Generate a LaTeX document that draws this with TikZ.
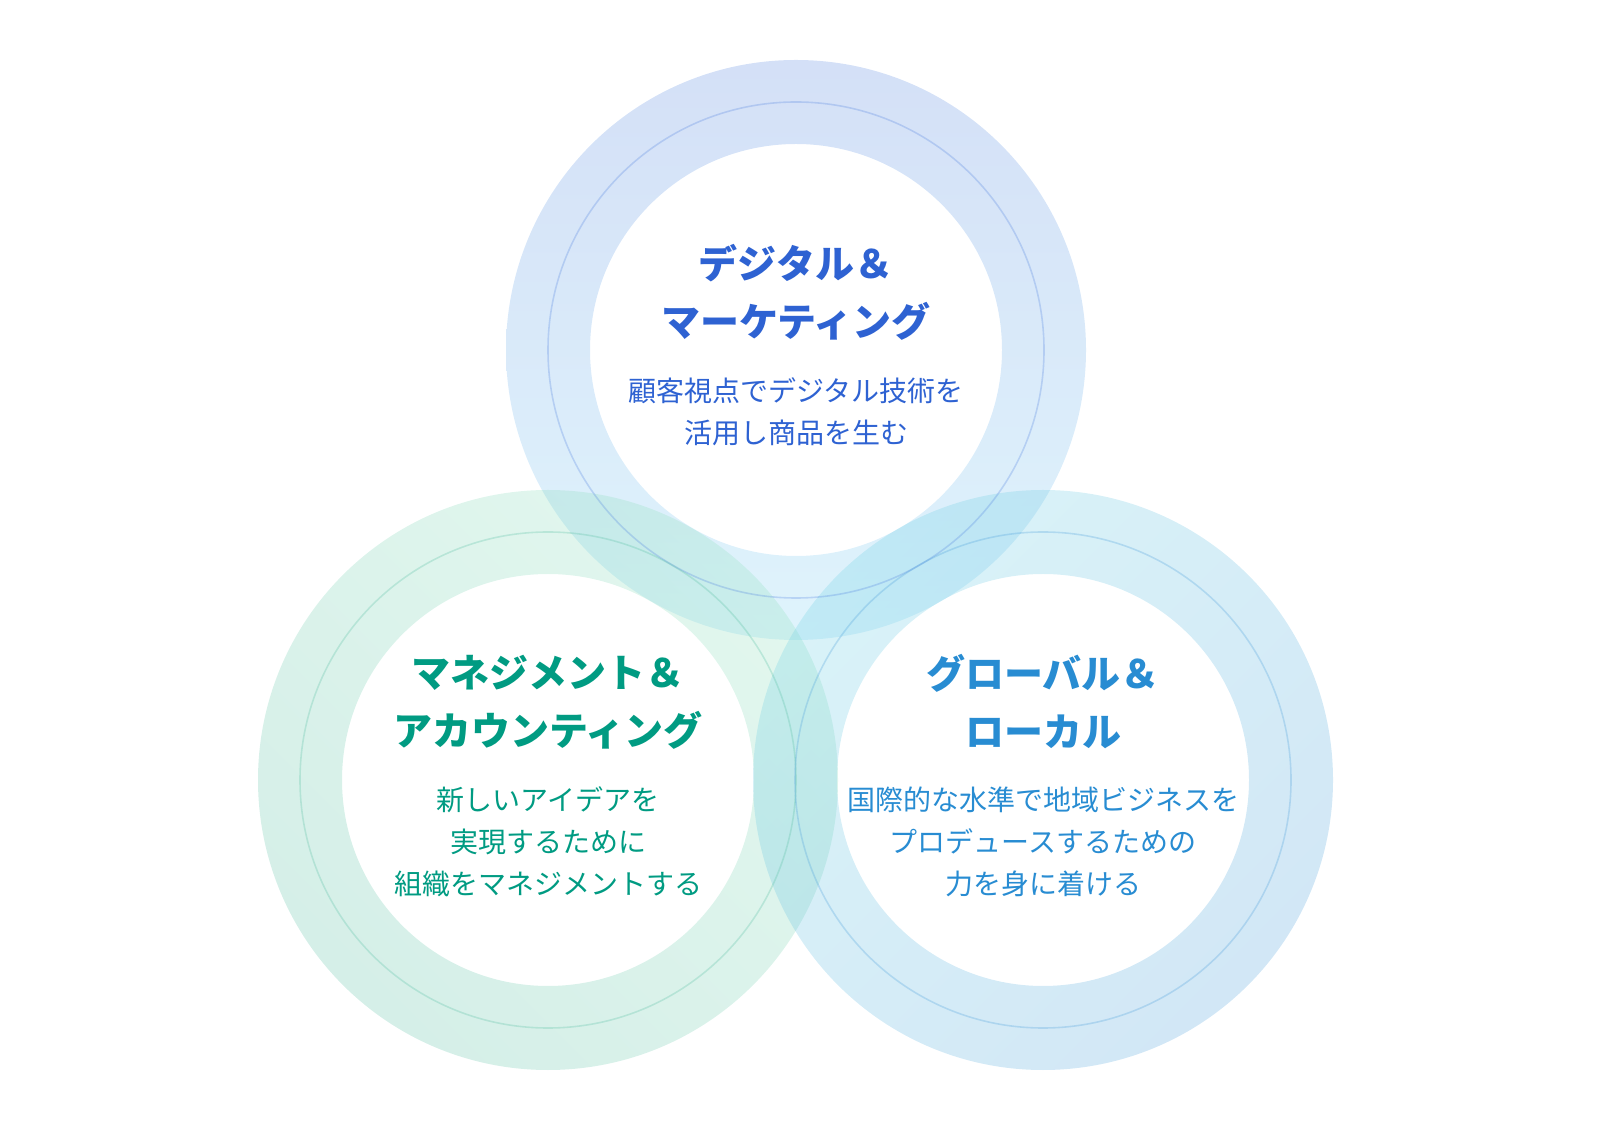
\documentclass[tikz,border=0pt]{standalone}
\usepackage{fontspec}
\usepackage{tikz}
\usetikzlibrary{positioning, calc}
\newfontfamily\jpfont{Noto Sans CJK JP}

\definecolor{dmtop}{RGB}{83,131,223}
\definecolor{dmbottom}{RGB}{127,211,243}
\definecolor{matop}{RGB}{139,223,187}
\definecolor{mabottom}{RGB}{87,191,163}
\definecolor{gltop}{RGB}{103,207,227}
\definecolor{glbottom}{RGB}{75,159,219}
\definecolor{dmtext}{RGB}{46,98,210}
\definecolor{matext}{RGB}{0,155,130}
\definecolor{gltext}{RGB}{40,140,210}

\begin{document}
\begin{tikzpicture}[x=0.5pt, y=0.5pt,
        ring/.style={even odd rule, fill opacity=0.25, draw=none},
        mid line/.style={line width=0.8pt, draw opacity=0.28},
        title style/.style={align=center, font=\jpfont\bfseries\fontsize{19.5}{29}\selectfont},
        body style/.style={align=center, font=\jpfont\fontsize{14}{21}\selectfont}
    ]
        \useasboundingbox (0,0) rectangle (1600,1130);
        \coordinate (dm) at (796,780);
        \coordinate (ma) at (548,350);
        \coordinate (gl) at (1043,350);

        \shade[ring, top color=dmtop, bottom color=dmbottom] (dm) circle (290) (dm) circle (206);
        \shade[ring, top color=matop, bottom color=mabottom, shading angle=-45] (ma) circle (290) (ma) circle (206);
        \shade[ring, top color=gltop, bottom color=glbottom, shading angle=45] (gl) circle (290) (gl) circle (206);

        \draw[mid line, draw=dmtop] (dm) circle (248);
        \draw[mid line, draw=mabottom] (ma) circle (248);
        \draw[mid line, draw=glbottom] (gl) circle (248);

        \node[title style, text=dmtext] (dmtitle) at ($(dm)+(0,58)$) {デジタル＆\\マーケティング};
        \node[body style, text=dmtext] (dmbody) at ($(dm)+(0,-62)$) {顧客視点でデジタル技術を\\活用し商品を生む};

        \node[title style, text=matext] (matitle) at ($(ma)+(0,78)$) {マネジメント＆\\アカウンティング};
        \node[body style, text=matext] (mabody) at ($(ma)+(0,-62)$) {新しいアイデアを\\実現するために\\組織をマネジメントする};

        \node[title style, text=gltext] (gltitle) at ($(gl)+(0,78)$) {グローバル＆\\ローカル};
        \node[body style, text=gltext] (glbody) at ($(gl)+(0,-62)$) {国際的な水準で地域ビジネスを\\プロデュースするための\\力を身に着ける};
    \end{tikzpicture}
\end{document}
